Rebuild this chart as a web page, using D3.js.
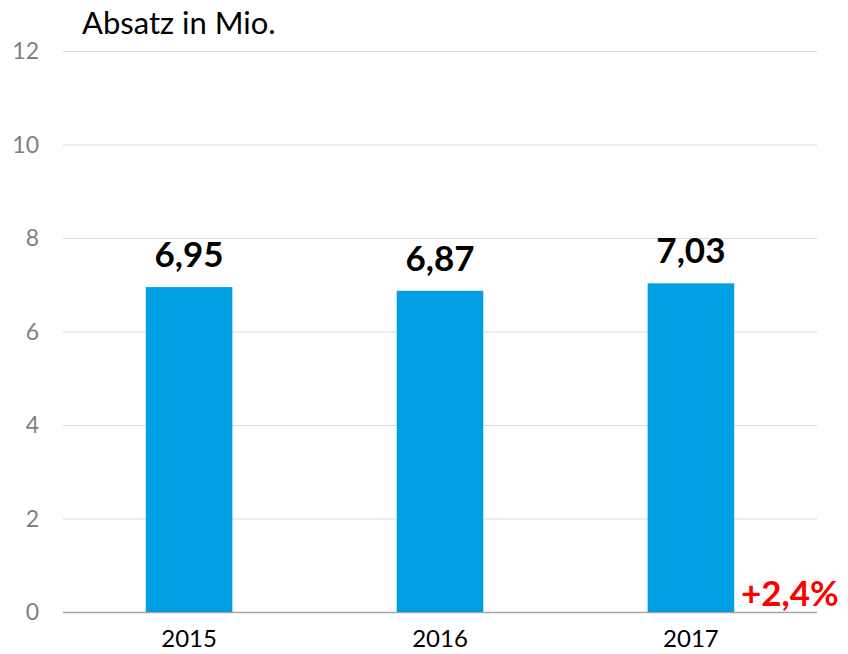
<!DOCTYPE html>
<html>
<head>
<meta charset="utf-8">
<script src="https://cdn.jsdelivr.net/npm/d3@7"></script>
<style>
  body { margin: 0; background: #fff; }
  text { font-family: Lato, "Open Sans", sans-serif; }
</style>
</head>
<body>
<svg width="848" height="654"></svg>
<script>
const years = ['2015', '2016', '2017'];
const sales = [6.95, 6.87, 7.03];
const valueLabels = ['6,95', '6,87', '7,03'];
const yTicks = [0, 2, 4, 6, 8, 10, 12];
const growthLabel = '+2,4%';

const svg = d3.select('svg');
const plotLeft = 63, plotRight = 817, plotTop = 51, plotBottom = 612;

const x = d3.scaleBand()
  .domain(years)
  .range([plotLeft, plotRight])
  .paddingInner(0.655)
  .paddingOuter(0.33);

const y = d3.scaleLinear()
  .domain([0, 12])
  .range([plotBottom, plotTop]);

// gridlines
svg.append('g')
  .selectAll('line')
  .data(yTicks)
  .join('line')
  .attr('x1', plotLeft)
  .attr('x2', plotRight)
  .attr('y1', d => y(d) + 0.5)
  .attr('y2', d => y(d) + 0.5)
  .attr('stroke', d => d === 0 ? '#a6a6a6' : '#d9d9d9')
  .attr('stroke-width', d => d === 0 ? 1.5 : 1);

// y tick labels
svg.append('g')
  .selectAll('text')
  .data(yTicks)
  .join('text')
  .attr('x', 39)
  .attr('y', d => y(d) + 8)
  .attr('text-anchor', 'end')
  .attr('fill', '#7f7f7f')
  .attr('font-size', 23)
  .text(d => d);

// bars
svg.append('g')
  .selectAll('rect')
  .data(sales)
  .join('rect')
  .attr('x', (d, i) => x(years[i]))
  .attr('y', d => y(d))
  .attr('width', x.bandwidth())
  .attr('height', d => plotBottom - y(d))
  .attr('fill', '#009fe3');

// value labels
svg.append('g')
  .selectAll('text')
  .data(sales)
  .join('text')
  .attr('x', (d, i) => x(years[i]) + x.bandwidth() / 2)
  .attr('y', d => y(d) - 20)
  .attr('text-anchor', 'middle')
  .attr('font-size', 35)
  .attr('font-weight', 'bold')
  .attr('fill', '#000')
  .text((d, i) => valueLabels[i]);

// x labels
svg.append('g')
  .selectAll('text')
  .data(years)
  .join('text')
  .attr('x', d => x(d) + x.bandwidth() / 2)
  .attr('y', 647)
  .attr('text-anchor', 'middle')
  .attr('font-size', 24)
  .attr('fill', '#000')
  .text(d => d);

// title
svg.append('text')
  .attr('x', 82)
  .attr('y', 34)
  .attr('font-size', 31)
  .attr('fill', '#000')
  .text('Absatz in Mio.');

// growth note
svg.append('text')
  .attr('x', 741)
  .attr('y', 606)
  .attr('font-size', 35)
  .attr('font-weight', 'bold')
  .attr('fill', '#ff0000')
  .text(growthLabel);
</script>
</body>
</html>
